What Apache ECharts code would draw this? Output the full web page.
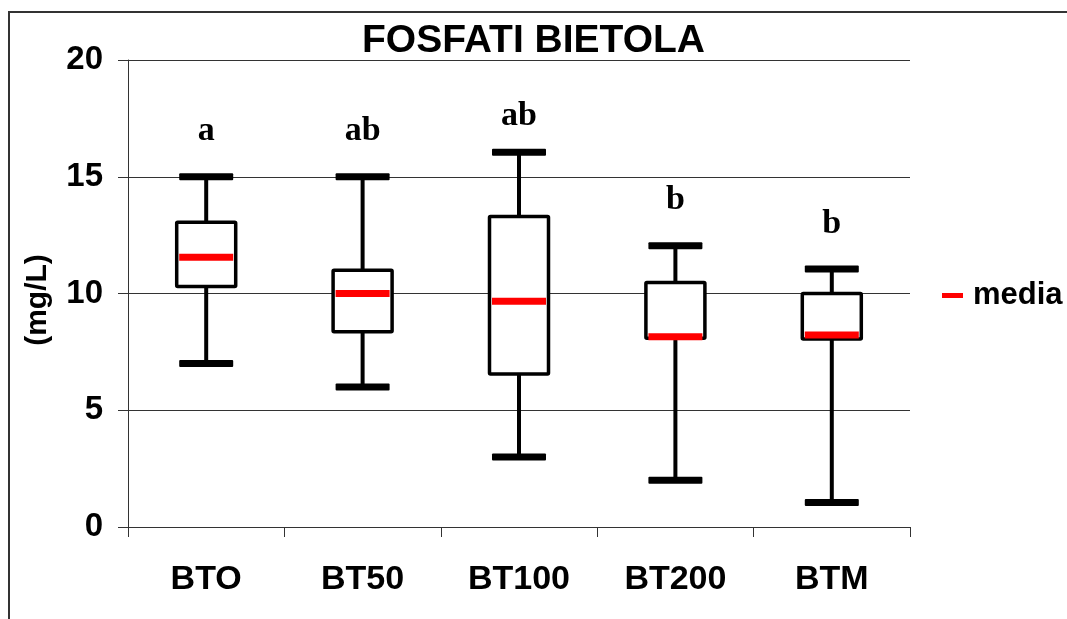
<!DOCTYPE html>
<html>
<head>
<meta charset="utf-8">
<title>FOSFATI BIETOLA</title>
<script src="https://cdn.jsdelivr.net/npm/echarts@6/dist/echarts.min.js"></script>
<style>
  html, body { margin: 0; padding: 0; background: #ffffff; }
  #chart { width: 1067px; height: 619px; }
</style>
</head>
<body>
<div id="chart"></div>
<script>
// Phosphate concentration (mg/L) per treatment
const categories = ['BTO', 'BT50', 'BT100', 'BT200', 'BTM'];
const minValues  = [7.0, 6.0, 3.0, 2.0, 1.05];
const q1Values   = [10.3, 8.36, 6.55, 8.08, 8.05];
const q3Values   = [13.05, 11.0, 13.3, 10.47, 10.0];
const maxValues  = [15.0, 15.0, 16.05, 12.05, 11.05];
const meanValues = [11.55, 10.0, 9.67, 8.15, 8.22];

// Significance letters and the height (mg/L) at which each one sits
const letters = ['a', 'ab', 'ab', 'b', 'b'];
const letterY = [16.95, 16.95, 17.58, 13.98, 12.95];

const yTicks = { min: 0, max: 20, interval: 5 };

const chart = echarts.init(document.getElementById('chart'), null, { renderer: 'canvas' });

const BOX_HALF = 29.5;
const CAP_HALF = 27;

function renderBox(params, api) {
  const i = api.value(0);
  const pMax = api.coord([i, api.value(4)]);
  const pQ3 = api.coord([i, api.value(3)]);
  const pQ1 = api.coord([i, api.value(2)]);
  const pMin = api.coord([i, api.value(1)]);
  const cx = pMax[0];
  const line = { stroke: '#000', lineWidth: 4 };
  return {
    type: 'group',
    children: [
      { type: 'line', shape: { x1: cx, y1: pMax[1], x2: cx, y2: pQ3[1] }, style: line },
      { type: 'line', shape: { x1: cx, y1: pQ1[1], x2: cx, y2: pMin[1] }, style: line },
      { type: 'rect', shape: { x: cx - CAP_HALF, y: pMax[1] - 3.5, width: CAP_HALF * 2, height: 7, r: 1 }, style: { fill: '#000' } },
      { type: 'rect', shape: { x: cx - CAP_HALF, y: pMin[1] - 3.5, width: CAP_HALF * 2, height: 7, r: 1 }, style: { fill: '#000' } },
      { type: 'rect', shape: { x: cx - BOX_HALF, y: pQ3[1], width: BOX_HALF * 2, height: pQ1[1] - pQ3[1], r: 1 },
        style: { fill: '#fff', stroke: '#000', lineWidth: 3.5 } }
    ]
  };
}

function renderMean(params, api) {
  const p = api.coord([api.value(0), api.value(1)]);
  return {
    type: 'rect',
    shape: { x: p[0] - CAP_HALF, y: p[1] - 3.5, width: CAP_HALF * 2, height: 7 },
    style: { fill: '#ff0000' }
  };
}

function renderLetter(params, api) {
  const p = api.coord([api.value(0), api.value(1)]);
  return {
    type: 'text',
    x: p[0],
    y: p[1],
    style: {
      text: letters[params.dataIndex],
      font: 'bold 34px "Liberation Serif", "Times New Roman", serif',
      fill: '#000',
      align: 'center',
      verticalAlign: 'middle'
    }
  };
}

const option = {
  animation: false,
  backgroundColor: '#ffffff',
  title: {
    text: 'FOSFATI BIETOLA',
    left: 'center',
    top: 22,
    padding: 0,
    textStyle: { fontFamily: 'Arial, "Liberation Sans", sans-serif', fontWeight: 'bold', fontSize: 39, color: '#000' }
  },
  legend: {
    left: 942,
    top: 280,
    padding: 0,
    itemWidth: 21,
    itemHeight: 5,
    data: [{ name: 'media', icon: 'rect' }],
    textStyle: { fontFamily: 'Arial, "Liberation Sans", sans-serif', fontWeight: 'bold', fontSize: 31, color: '#000', padding: [0, 0, 0, 5] }
  },
  grid: { left: 128, top: 60, width: 782, height: 467, containLabel: false },
  xAxis: {
    type: 'category',
    data: categories,
    boundaryGap: true,
    axisLine: { show: true, lineStyle: { color: '#333', width: 1 } },
    axisTick: { show: true, interval: 0, length: 10, lineStyle: { color: '#333', width: 1 } },
    axisLabel: { interval: 0, margin: 36, fontFamily: 'Arial, "Liberation Sans", sans-serif', fontWeight: 'bold', fontSize: 34, color: '#000' },
    splitLine: { show: false }
  },
  yAxis: {
    type: 'value',
    min: yTicks.min,
    max: yTicks.max,
    interval: yTicks.interval,
    axisLine: { show: true, lineStyle: { color: '#333', width: 1 } },
    axisTick: { show: true, length: 10, lineStyle: { color: '#333', width: 1 } },
    axisLabel: { margin: 25, fontFamily: 'Arial, "Liberation Sans", sans-serif', fontWeight: 'bold', fontSize: 33, color: '#000' },
    splitLine: { show: true, lineStyle: { color: '#333', width: 1 } }
  },
  graphic: [
    {
      type: 'rect',
      shape: { x: 9, y: 12, width: 1200, height: 800 },
      style: { fill: 'none', stroke: '#333', lineWidth: 2 },
      silent: true,
      z: 0
    },
    {
      type: 'text',
      x: 38,
      y: 300,
      rotation: Math.PI / 2,
      style: {
        text: '(mg/L)',
        font: 'bold 30px Arial, "Liberation Sans", sans-serif',
        fill: '#000',
        align: 'center',
        verticalAlign: 'middle'
      }
    }
  ],
  series: [
    {
      name: 'box',
      type: 'custom',
      renderItem: renderBox,
      encode: { x: 0, y: [1, 2, 3, 4] },
      data: categories.map((c, i) => [i, minValues[i], q1Values[i], q3Values[i], maxValues[i]]),
      z: 2
    },
    {
      name: 'media',
      type: 'custom',
      renderItem: renderMean,
      itemStyle: { color: '#ff0000' },
      encode: { x: 0, y: 1 },
      data: categories.map((c, i) => [i, meanValues[i]]),
      z: 3
    },
    {
      name: 'letters',
      type: 'custom',
      renderItem: renderLetter,
      encode: { x: 0, y: 1 },
      data: categories.map((c, i) => [i, letterY[i]]),
      z: 3
    }
  ]
};

chart.setOption(option);
</script>
</body>
</html>
